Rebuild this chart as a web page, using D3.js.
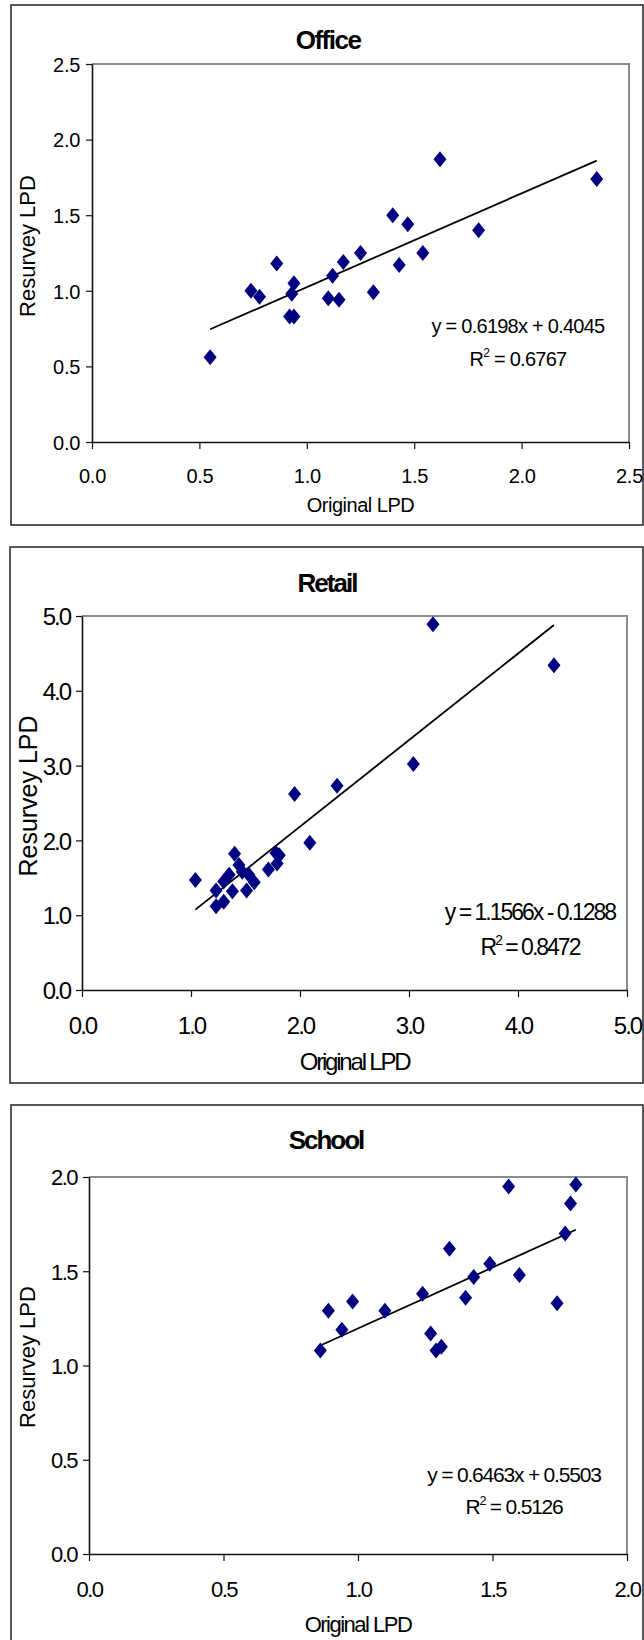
<!DOCTYPE html>
<html>
<head>
<meta charset="utf-8">
<script src="https://cdn.jsdelivr.net/npm/d3@7"></script>
<style>
  body { margin: 0; background: #fff; }
  svg { display: block; }
  text { font-family: "Liberation Sans", Arial, sans-serif; fill: #000; }
</style>
</head>
<body>
<script>

// Office
const officeOriginal = [0.55, 0.74, 0.78, 0.86, 0.92, 0.94, 0.93, 0.94, 1.10, 1.12, 1.15, 1.17, 1.25, 1.31, 1.40, 1.43, 1.47, 1.54, 1.62, 1.80, 2.35];
const officeResurvey = [0.56, 1.00, 0.96, 1.18, 0.83, 0.83, 0.98, 1.05, 0.95, 1.10, 0.94, 1.19, 1.25, 0.99, 1.50, 1.17, 1.44, 1.25, 1.87, 1.40, 1.74];
const officeTicks = [0, 0.5, 1.0, 1.5, 2.0, 2.5];
const officeFit = [0.6198, 0.4045];
const officeEquation = "y = 0.6198x + 0.4045";
const officeR2 = "0.6767";

// Retail
const retailOriginal = [1.04, 1.23, 1.23, 1.30, 1.30, 1.35, 1.38, 1.40, 1.44, 1.47, 1.51, 1.53, 1.58, 1.71, 1.78, 1.79, 1.81, 1.95, 2.09, 2.34, 3.04, 3.22, 4.33];
const retailResurvey = [1.47, 1.33, 1.12, 1.18, 1.45, 1.54, 1.32, 1.82, 1.67, 1.58, 1.33, 1.54, 1.44, 1.61, 1.83, 1.69, 1.80, 2.62, 1.97, 2.73, 3.02, 4.89, 4.34];
const retailTicks = [0, 1.0, 2.0, 3.0, 4.0, 5.0];
const retailFit = [1.1566, -0.1288];
const retailEquation = "y = 1.1566x - 0.1288";
const retailR2 = "0.8472";

// School
const schoolOriginal = [0.86, 0.89, 0.94, 0.98, 1.10, 1.24, 1.27, 1.29, 1.31, 1.34, 1.40, 1.43, 1.49, 1.56, 1.60, 1.74, 1.77, 1.79, 1.81];
const schoolResurvey = [1.08, 1.29, 1.19, 1.34, 1.29, 1.38, 1.17, 1.08, 1.10, 1.62, 1.36, 1.47, 1.54, 1.95, 1.48, 1.33, 1.70, 1.86, 1.96];
const schoolTicks = [0, 0.5, 1.0, 1.5, 2.0];
const schoolFit = [0.6463, 0.5503];
const schoolEquation = "y = 0.6463x + 0.5503";
const schoolR2 = "0.5126";

const xTitle = "Original LPD";
const yTitle = "Resurvey LPD";

const svg = d3.select("body").append("svg").attr("width", 644).attr("height", 1640);

// excel style diamond, a bit taller than wide
const diamond = {
    draw(ctx) {
        ctx.moveTo(0, -8);
        ctx.lineTo(6.5, 0);
        ctx.lineTo(0, 8);
        ctx.lineTo(-6.5, 0);
        ctx.closePath();
    }
};

const panels = [
    {title: "Office", xs: officeOriginal, ys: officeResurvey, ticks: officeTicks, fit: officeFit, eq: officeEquation, r2: officeR2,
     frame: [11, 5, 643, 525], plot: [92, 64, 629, 442],
     titleX: 328, titleY: 49, xTitleY: 512, yTitleX: 35, yTitleY: 246, eqX: 518, eqY: [333, 366],
     tickFont: 20, tickLs: -0.3, titleLs: -1.5, xTitleFont: 20, xTitleLs: -0.5, yTitleFont: 22, eqFont: 20, eqLs: -0.75},
    {title: "Retail", xs: retailOriginal, ys: retailResurvey, ticks: retailTicks, fit: retailFit, eq: retailEquation, r2: retailR2,
     frame: [10, 547, 643, 1083], plot: [82, 616, 627, 990],
     titleX: 327, titleY: 592, xTitleY: 1070, yTitleX: 37, yTitleY: 796, eqX: 530, eqY: [920, 955],
     tickFont: 24, tickLs: -2, titleLs: -2, xTitleFont: 24, xTitleLs: -2.2, yTitleFont: 25, eqFont: 23, eqLs: -2},
    {title: "School", xs: schoolOriginal, ys: schoolResurvey, ticks: schoolTicks, fit: schoolFit, eq: schoolEquation, r2: schoolR2,
     frame: [11, 1105, 643, 1660], plot: [89, 1177, 627, 1554],
     titleX: 326, titleY: 1149, xTitleY: 1632, yTitleX: 35, yTitleY: 1357, eqX: 514, eqY: [1482, 1514],
     tickFont: 22, tickLs: -1.5, titleLs: -2, xTitleFont: 22, xTitleLs: -1.5, yTitleFont: 22, eqFont: 21, eqLs: -1.2}
];

function drawPanel(p) {
    const g = svg.append("g");
    const [fx0, fy0, fx1, fy1] = p.frame;
    const [px0, py0, px1, py1] = p.plot;

    g.append("rect")
        .attr("x", fx0).attr("y", fy0)
        .attr("width", fx1 - fx0).attr("height", fy1 - fy0)
        .attr("fill", "#fff").attr("stroke", "#222").attr("stroke-width", 1.5);

    const top = d3.max(p.ticks);
    const x = d3.scaleLinear().domain([0, top]).range([px0, px1]);
    const y = d3.scaleLinear().domain([0, top]).range([py1, py0]);

    // grey plot border (top + right)
    g.append("path")
        .attr("d", `M${px0},${py0}H${px1}V${py1}`)
        .attr("fill", "none").attr("stroke", "#8c8c8c").attr("stroke-width", 2);

    const fmt = d3.format(".1f");

    const yAxis = g.append("g")
        .attr("transform", `translate(${px0},0)`)
        .call(d3.axisLeft(y).tickValues(p.ticks).tickFormat(fmt).tickSize(6).tickPadding(6).tickSizeOuter(0));
    const xAxis = g.append("g")
        .attr("transform", `translate(0,${py1})`)
        .call(d3.axisBottom(x).tickValues(p.ticks).tickFormat(fmt).tickSize(7).tickPadding(20).tickSizeOuter(0));

    [xAxis, yAxis].forEach(a => {
        a.select(".domain").attr("stroke", "#111").attr("stroke-width", 1.6);
        a.selectAll(".tick line").attr("stroke", "#111").attr("stroke-width", 1.2);
        a.selectAll("text")
            .attr("fill", "#000")
            .style("font-family", '"Liberation Sans", Arial, sans-serif')
            .style("font-size", p.tickFont + "px")
            .style("letter-spacing", p.tickLs + "px");
    });
    yAxis.selectAll("text").attr("dy", "0.36em");

    // trendline
    const [m, b] = p.fit;
    const ext = d3.extent(p.xs);
    g.append("path")
        .datum(ext)
        .attr("d", d3.line().x(d => x(d)).y(d => y(m * d + b)))
        .attr("stroke", "#000").attr("stroke-width", 1.8).attr("fill", "none");

    // points
    g.selectAll(".pt")
        .data(p.xs.map((v, i) => [v, p.ys[i]]))
        .join("path")
        .attr("class", "pt")
        .attr("transform", d => `translate(${x(d[0])},${y(d[1])})`)
        .attr("d", d3.symbol().type(diamond))
        .attr("fill", "#000080");

    // titles
    g.append("text")
        .attr("x", p.titleX).attr("y", p.titleY)
        .attr("text-anchor", "middle")
        .style("font-size", "26px").style("font-weight", "bold")
        .style("letter-spacing", p.titleLs + "px")
        .text(p.title);

    g.append("text")
        .attr("x", (px0 + px1) / 2).attr("y", p.xTitleY)
        .attr("text-anchor", "middle")
        .style("font-size", p.xTitleFont + "px")
        .style("letter-spacing", p.xTitleLs + "px")
        .text(xTitle);

    g.append("text")
        .attr("transform", `translate(${p.yTitleX},${p.yTitleY}) rotate(-90)`)
        .attr("text-anchor", "middle")
        .style("font-size", p.yTitleFont + "px")
        .text(yTitle);

    // equation + R²
    g.append("text")
        .attr("x", p.eqX).attr("y", p.eqY[0])
        .attr("text-anchor", "middle")
        .style("font-size", p.eqFont + "px")
        .style("letter-spacing", p.eqLs + "px")
        .text(p.eq);

    const r = g.append("text")
        .attr("x", p.eqX).attr("y", p.eqY[1])
        .attr("text-anchor", "middle")
        .style("font-size", p.eqFont + "px")
        .style("letter-spacing", p.eqLs + "px");
    r.append("tspan").text("R");
    r.append("tspan").attr("dy", -p.eqFont * 0.45).style("font-size", (p.eqFont * 0.6) + "px").text("2");
    r.append("tspan").attr("dy", p.eqFont * 0.45).text(" = " + p.r2);
}

panels.forEach(drawPanel);

</script>
</body>
</html>
